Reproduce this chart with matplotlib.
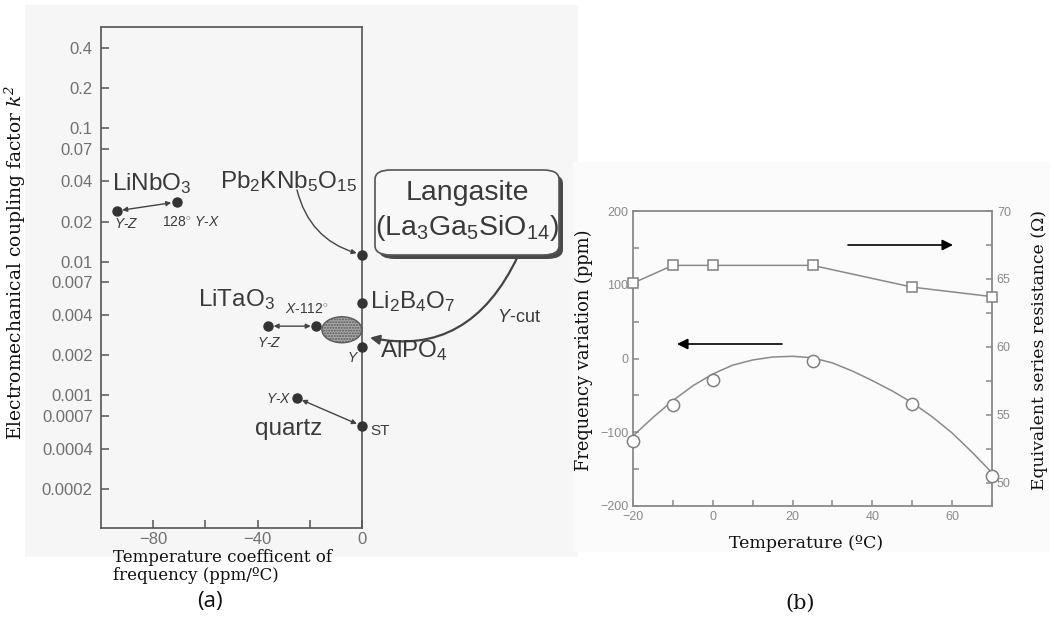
import numpy as np
import matplotlib
matplotlib.use("Agg")
import matplotlib.pyplot as plt
from matplotlib.patches import Ellipse, FancyBboxPatch, Rectangle
from matplotlib.ticker import FixedLocator, FixedFormatter, NullLocator, MultipleLocator

plt.rcParams['font.family'] = ['Liberation Sans', 'DejaVu Sans']
plt.rcParams['mathtext.fontset'] = 'custom'
plt.rcParams['mathtext.rm'] = 'Liberation Sans'
plt.rcParams['mathtext.it'] = 'Liberation Sans:italic'
plt.rcParams['mathtext.bf'] = 'Liberation Sans:bold'
plt.rcParams['mathtext.sf'] = 'DejaVu Serif'
plt.rcParams['mathtext.cal'] = 'DejaVu Serif:italic'

# ---------------- data: panel (a) ----------------
a_yticks = [0.4, 0.2, 0.1, 0.07, 0.04, 0.02, 0.01, 0.007, 0.004, 0.002,
            0.001, 0.0007, 0.0004, 0.0002]
a_yticklabels = ['0.4', '0.2', '0.1', '0.07', '0.04', '0.02', '0.01', '0.007',
                 '0.004', '0.002', '0.001', '0.0007', '0.0004', '0.0002']
a_xticks = [-80, -40, 0]
a_xminor = [-60, -20]

linbo3_tcf = [-94.0, -71.0]
linbo3_k2 = [0.024, 0.028]
litao3_tcf = [-36.0, -17.5]
litao3_k2 = [0.0033, 0.0033]
quartz_tcf = [-25.0, 0.0]
quartz_k2 = [0.00096, 0.00059]
pbknb_tcf, pbknb_k2 = 0.0, 0.0113
lib4o7_tcf, lib4o7_k2 = 0.0, 0.0049
alpo4_tcf, alpo4_k2 = 0.0, 0.0023
langasite_tcf, langasite_k2 = -7.7, 0.0031

# ---------------- data: panel (b) ----------------
temp_pts = [-20, -10, 0, 25, 50, 70]
freq_var = [-112, -63, -29, -4, -62, -159]
esr = [64.7, 66.0, 66.0, 66.0, 64.4, 63.7]
curve_temp = [-20, -15, -10, -5, 0, 5, 10, 15, 20, 25, 30, 35, 40, 45, 50, 55, 60, 65, 70]
curve_freq = [-105, -80, -57, -37, -21, -9, -2, 2, 3, 1, -6, -17, -30, -44, -60, -79, -101, -127, -155]
b_xticks = [-20, 0, 20, 40, 60]
b_yticks = [-200, -100, 0, 100, 200]
b_y2ticks = [50, 55, 60, 65, 70]

W, H = 1054, 625
fig = plt.figure(figsize=(W / 100, H / 100), dpi=100)
fig.patch.set_facecolor('white')


def fx(px):
    return px / W


def fy(py):
    return 1 - py / H


# scanned backgrounds
fig.patches.append(Rectangle((fx(25), fy(557)), fx(553), 552 / H, transform=fig.transFigure,
                             facecolor='#f6f6f6', edgecolor='none', zorder=-5))
fig.patches.append(Rectangle((fx(573), fy(552)), fx(477), 390 / H, transform=fig.transFigure,
                             facecolor='#fbfbfb', edgecolor='none', zorder=-5))

GREY = '#555555'
TICKC = '#707070'

# ================= panel (a) =================
ax = fig.add_axes([fx(101), fy(528), fx(261), 501 / H])
ax.set_facecolor('none')
ax.set_yscale('log')
ax.set_xlim(-100, 0)
ax.set_ylim(0.000102, 0.57)
ax.yaxis.set_major_locator(FixedLocator(a_yticks))
ax.yaxis.set_major_formatter(FixedFormatter(a_yticklabels))
ax.yaxis.set_minor_locator(NullLocator())
ax.xaxis.set_major_locator(FixedLocator(a_xticks))
ax.xaxis.set_minor_locator(FixedLocator(a_xminor))
for s in ax.spines.values():
    s.set_color(GREY)
    s.set_linewidth(1.2)
ax.tick_params(axis='both', which='both', direction='in', colors=GREY,
               labelcolor=TICKC, labelsize=12, length=6, width=1.1)
ax.tick_params(axis='y', pad=6)
ax.tick_params(axis='x', pad=3)
ax.set_zorder(2)

DOT = '#333333'
mk = dict(marker='o', ms=6.5, color=DOT, ls='none', zorder=5, clip_on=False)
ax.plot(linbo3_tcf, linbo3_k2, **mk)
ax.plot(litao3_tcf, litao3_k2, **mk)
ax.plot(quartz_tcf, quartz_k2, **mk)
ax.plot([pbknb_tcf, lib4o7_tcf, alpo4_tcf], [pbknb_k2, lib4o7_k2, alpo4_k2], **mk)

arr = dict(arrowstyle='<|-|>', color='#444444', lw=1.0, mutation_scale=7,
           shrinkA=4, shrinkB=4)
ax.annotate('', xy=(linbo3_tcf[0], linbo3_k2[0]), xytext=(linbo3_tcf[1], linbo3_k2[1]),
            arrowprops=arr)
ax.annotate('', xy=(litao3_tcf[0], litao3_k2[0]), xytext=(litao3_tcf[1], litao3_k2[1]),
            arrowprops=arr)
ax.annotate('', xy=(quartz_tcf[0], quartz_k2[0]), xytext=(quartz_tcf[1], quartz_k2[1]),
            arrowprops=arr)

# Langasite ellipse (in axes coords so it stays elliptic on the log axis)
cx, cy = (ax.transScale + ax.transLimits).transform((langasite_tcf, langasite_k2))
ell = Ellipse((cx, cy), width=40 / 261, height=26 / 501, transform=ax.transAxes,
              facecolor='#a8a8a8', edgecolor='#5a5a5a', hatch='......', lw=1.0,
              zorder=4, clip_on=False)
ax.add_patch(ell)

TXT = '#3a3a3a'
big = dict(fontsize=17.5, color=TXT, transform=fig.transFigure)
small = dict(fontsize=10, color=TXT, transform=fig.transFigure)

fig.text(fx(112), fy(190), r'$\mathregular{LiNbO_3}$', ha='left', va='baseline', **big)
fig.text(fx(126), fy(228), r'$\mathit{Y}$-$\mathit{Z}$', ha='center', va='baseline', **small)
fig.text(fx(162), fy(227), r'128$^{\circ}$ $\mathit{Y}$-$\mathit{X}$', ha='left', va='baseline', **small)
fig.text(fx(220), fy(188), r'$\mathregular{Pb_2KNb_5O_{15}}$', ha='left', va='baseline', **big)
fig.text(fx(198), fy(306), r'$\mathregular{LiTaO_3}$', ha='left', va='baseline', **big)
fig.text(fx(285), fy(314), r'$\mathit{X}$-112$^{\circ}$', ha='left', va='baseline', **small)
fig.text(fx(269), fy(347), r'$\mathit{Y}$-$\mathit{Z}$', ha='center', va='baseline', **small)
fig.text(fx(370), fy(308), r'$\mathregular{Li_2B_4O_7}$', ha='left', va='baseline', **big)
fig.text(fx(380), fy(357), r'$\mathregular{AlPO_4}$', ha='left', va='baseline', **big)
fig.text(fx(353), fy(362), r'$\mathit{Y}$', ha='center', va='baseline', **small)
fig.text(fx(292), fy(403), r'$\mathit{Y}$-$\mathit{X}$', ha='right', va='baseline', **small)
fig.text(fx(255), fy(435), 'quartz', ha='left', va='baseline', **big)
fig.text(fx(370), fy(435), 'ST', ha='left', va='baseline', fontsize=11, color=TXT,
         transform=fig.transFigure)
fig.text(fx(497), fy(322), r'$\mathit{Y}$-cut', ha='left', va='baseline', fontsize=13,
         color=TXT, transform=fig.transFigure)

# Langasite box with shadow
shadow = FancyBboxPatch((fx(379), fy(259)), fx(184), 85 / H,
                        boxstyle='round,pad=0,rounding_size=0.015', transform=fig.transFigure,
                        facecolor='#4a4a4a', edgecolor='none', zorder=3)
box = FancyBboxPatch((fx(375), fy(255)), fx(184), 85 / H,
                     boxstyle='round,pad=0,rounding_size=0.015', transform=fig.transFigure,
                     facecolor='#f8f8f8', edgecolor='#555555', lw=1.2, zorder=4)
fig.patches.extend([shadow, box])
fig.text(fx(467), fy(193), 'Langasite', ha='center', va='center', fontsize=20.5,
         color=TXT, zorder=5)
fig.text(fx(467), fy(228), r'$\mathregular{(La_3Ga_5SiO_{14})}$', ha='center', va='center',
         fontsize=20.5, color=TXT, zorder=5)

# curved arrows
ax.annotate('', xy=(pbknb_tcf, pbknb_k2), xycoords='data',
            xytext=(fx(297), fy(190)), textcoords='figure fraction',
            arrowprops=dict(arrowstyle='-|>', color='#444444', lw=1.0, mutation_scale=7,
                            shrinkA=0, shrinkB=4, connectionstyle='arc3,rad=0.3'),
            annotation_clip=False)
ax.annotate('', xy=(langasite_tcf, langasite_k2), xycoords='data',
            xytext=(fx(518), fy(256)), textcoords='figure fraction',
            arrowprops=dict(arrowstyle='-|>', color='#444444', lw=1.6, mutation_scale=14,
                            shrinkA=0, shrinkB=21, connectionstyle='arc3,rad=-0.45'),
            annotation_clip=False)

# axis labels (serif)
fig.text(fx(113), fy(580), 'Temperature coefficent of\nfrequency (ppm/ºC)', ha='left',
         va='baseline', fontsize=12, family='DejaVu Serif', linespacing=1.05, color='#111111')
fig.text(fx(15), fy(263), r'Electromechanical coupling factor $\mathcal{k}^{\mathcal{2}}$',
         rotation=90, ha='center', va='center', fontsize=13.5, family='DejaVu Serif',
         color='#111111')
fig.text(fx(210), fy(601), '(a)', ha='center', va='center', fontsize=16, family='Open Sans',
         color='#111111')

# ================= panel (b) =================
bx = fig.add_axes([fx(633), fy(506), fx(359), 295 / H])
bx.set_facecolor('none')
bx.set_zorder(1)
bx.set_xlim(-20, 70)
bx.set_ylim(-200, 200)
bx.xaxis.set_major_locator(FixedLocator(b_xticks))
bx.xaxis.set_minor_locator(MultipleLocator(10))
bx.yaxis.set_major_locator(FixedLocator(b_yticks))
bx.yaxis.set_minor_locator(MultipleLocator(50))
GC = '#8a8a8a'
for s in bx.spines.values():
    s.set_color(GC)
    s.set_linewidth(1.3)
bx.tick_params(axis='both', which='both', direction='in', colors=GC, labelcolor='#8a8a8a',
               labelsize=9, length=4, width=1.1)
bx.tick_params(axis='y', which='both', right=False)

bx.plot(curve_temp, curve_freq, '-', color='#8a8a8a', lw=1.1, zorder=3)
bx.plot(temp_pts, freq_var, 'o', ms=8.8, mfc='white', mec='#808080', mew=1.1,
        ls='none', zorder=4, clip_on=False)

b2 = bx.twinx()
b2.set_zorder(1.5)
b2.set_facecolor('none')
b2.set_ylim(48.3, 70)
b2.yaxis.set_major_locator(FixedLocator(b_y2ticks))
b2.yaxis.set_minor_locator(MultipleLocator(2.5))
for s in b2.spines.values():
    s.set_visible(False)
b2.tick_params(axis='y', which='both', direction='in', colors=GC, labelcolor='#8a8a8a',
               labelsize=9, length=4, width=1.1)
b2.plot(temp_pts, esr, 's-', ms=7.7, mfc='white', mec='#808080', mew=1.1, color='#8a8a8a',
        lw=1.1, clip_on=False, zorder=4)

# direction arrows
bx.annotate('', xy=(fx(953), fy(245)), xycoords='figure fraction',
            xytext=(fx(848), fy(245)), textcoords='figure fraction',
            arrowprops=dict(arrowstyle='-|>', color='black', lw=1.2, mutation_scale=16,
                            shrinkA=0, shrinkB=0))
bx.annotate('', xy=(fx(677), fy(344)), xycoords='figure fraction',
            xytext=(fx(782), fy(344)), textcoords='figure fraction',
            arrowprops=dict(arrowstyle='-|>', color='black', lw=1.2, mutation_scale=16,
                            shrinkA=0, shrinkB=0))

fig.text(fx(806), fy(543), 'Temperature (ºC)', ha='center', va='center', fontsize=12.5,
         family='DejaVu Serif', color='#111111')
fig.text(fx(584), fy(350), 'Frequency variation (ppm)', rotation=90, ha='center',
         va='center', fontsize=12.9, family='DejaVu Serif', color='#111111')
fig.text(fx(1040), fy(350), 'Equivalent series resistance (Ω)', rotation=90, ha='center',
         va='center', fontsize=12.4, family='DejaVu Serif', color='#111111')
fig.text(fx(800), fy(603), '(b)', ha='center', va='center', fontsize=15,
         family='DejaVu Serif', color='#111111')

fig.savefig('out.png', dpi=100)
